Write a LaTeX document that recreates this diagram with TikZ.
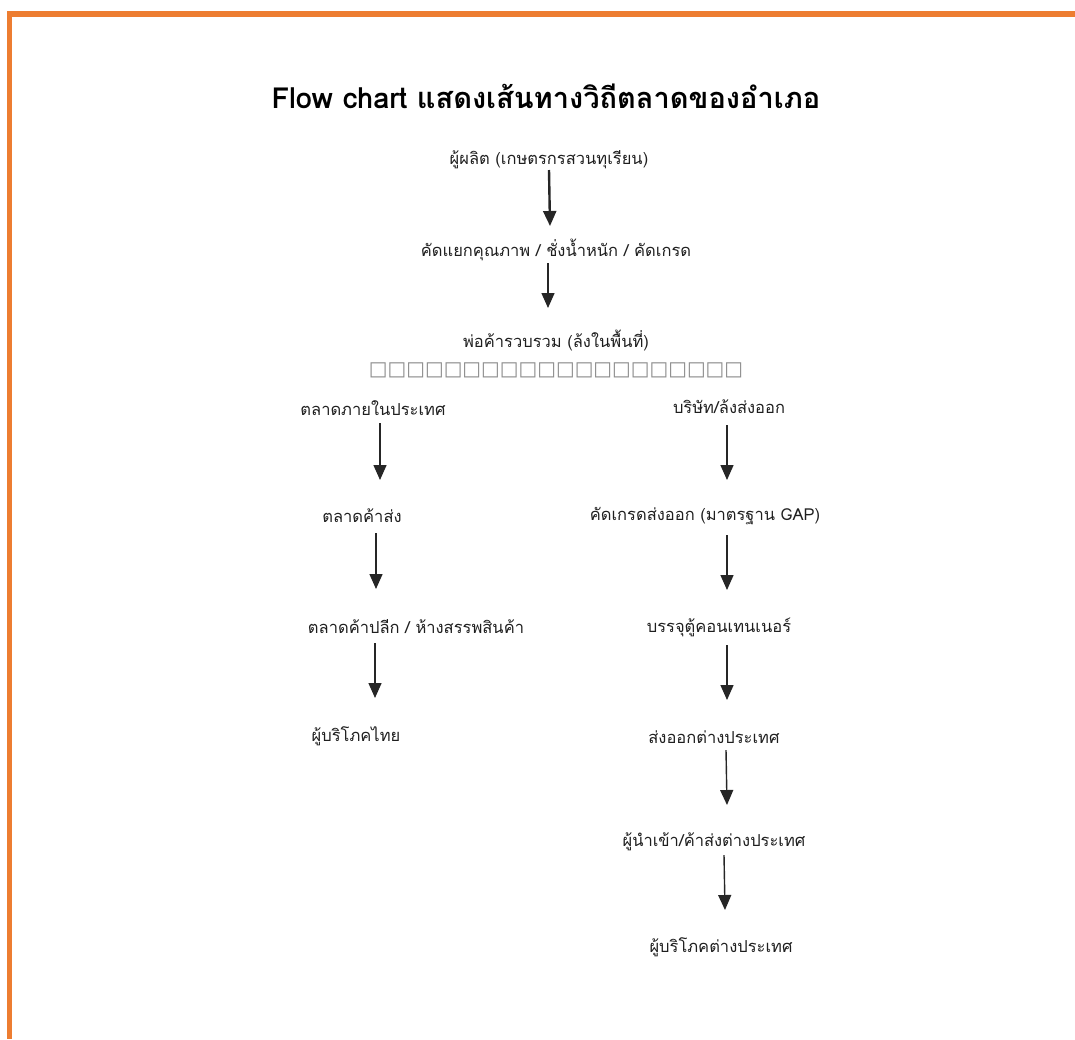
\documentclass[tikz,border=0pt]{standalone}
\usepackage{fontspec}
\setmainfont[Script=Thai]{Loma}
\newfontfamily\boxfont{DejaVu Sans}
\usetikzlibrary{arrows.meta,calc}
\definecolor{borderorange}{HTML}{ED7D31}
\begin{document}
\begin{tikzpicture}[x=1pt,y=-1pt,
  lbl/.style={inner sep=0pt, font=\fontsize{16.5}{19}\selectfont, text=black!88},
  arr/.style={-{Triangle[width=13pt,length=15pt]}, line width=1.4pt, black!85},
]
\useasboundingbox (0,0) rectangle (1075,1039);
\fill[borderorange] (7,11) rectangle (1075,17);
\fill[borderorange] (7,11) rectangle (12,1039);

\node[inner sep=0pt, font=\bfseries\fontsize{29}{33}\selectfont] (title) at (546,96) {Flow chart แสดงเส้นทางวิถีตลาดของอำเภอ};

\node[lbl] (n1) at (549,160) {ผู้ผลิต (เกษตรกรสวนทุเรียน)};
\node[lbl] (n2) at (556,250) {คัดแยกคุณภาพ / ชั่งน้ำหนัก / คัดเกรด};
\node[lbl] (n3) at (556,340) {พ่อค้ารวบรวม (ล้งในพื้นที่)};
\node[inner sep=0pt, font=\boxfont\fontsize{19.8}{22}\selectfont, text=black!45] (boxes) at (556,370) {□□□□□□□□□□□□□□□□□□□□};

\node[lbl] (L1) at (373,408) {ตลาดภายในประเทศ};
\node[lbl] (L2) at (362,516) {ตลาดค้าส่ง};
\node[lbl] (L3) at (416,627) {ตลาดค้าปลีก / ห้างสรรพสินค้า};
\node[lbl] (L4) at (356,736) {ผู้บริโภคไทย};

\node[lbl] (R1) at (729,407) {บริษัท/ล้งส่งออก};
\node[lbl] (R2) at (705,516) {คัดเกรดส่งออก (มาตรฐาน GAP)};
\node[lbl] (R3) at (719,627) {บรรจุตู้คอนเทนเนอร์};
\node[lbl] (R4) at (714,737) {ส่งออกต่างประเทศ};
\node[lbl] (R5) at (714,842) {ผู้นำเข้า/ค้าส่งต่างประเทศ};
\node[lbl] (R6) at (721,947) {ผู้บริโภคต่างประเทศ};

\draw[arr, line width=2.4pt] ($(n1.center)+(0,10)$) -- ($(n2.center)+(-6,-24)$);
\draw[arr] ($(n2.center)+(-8,13)$) -- ($(n3.center)+(-8,-32)$);

\draw[arr] ($(L1.center)+(7,15)$) -- ($(L2.center)+(18,-36)$);
\draw[arr] ($(L2.center)+(14,17)$) -- ($(L3.center)+(-40,-38)$);
\draw[arr] ($(L3.center)+(-41,16)$) -- ($(L4.center)+(19,-38)$);

\draw[arr] ($(R1.center)+(-2,18)$) -- ($(R2.center)+(22,-36)$);
\draw[arr] ($(R2.center)+(22,19)$) -- ($(R3.center)+(8,-37)$);
\draw[arr] ($(R3.center)+(8,18)$) -- ($(R4.center)+(13,-37)$);
\draw[arr] ($(R4.center)+(12,13)$) -- ($(R5.center)+(13,-37)$);
\draw[arr] ($(R5.center)+(10,13)$) -- ($(R6.center)+(4,-37)$);
\end{tikzpicture}
\end{document}
